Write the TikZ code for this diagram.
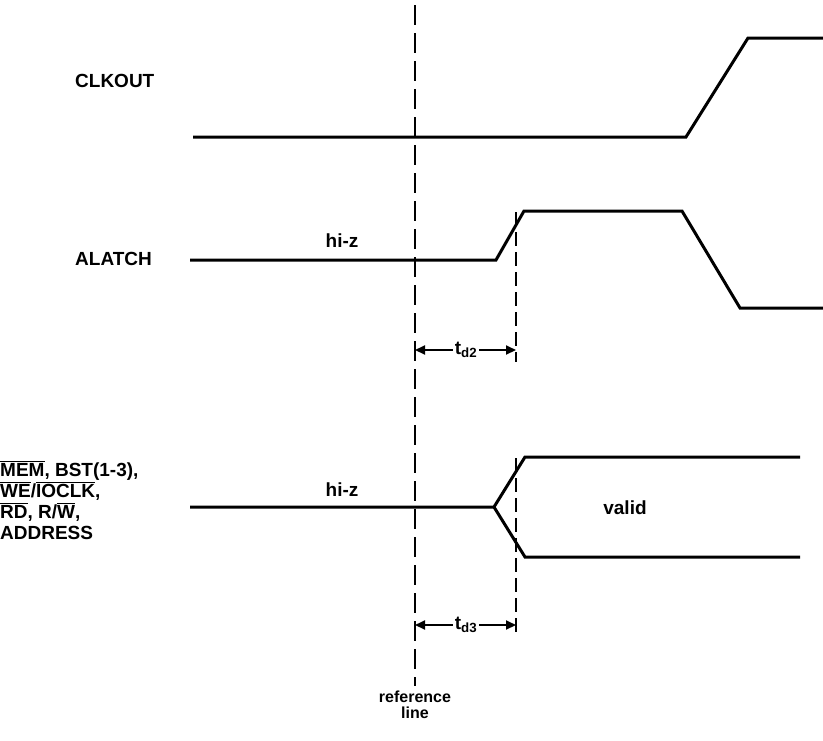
\documentclass[tikz,border=0pt]{standalone}
\usepackage{fontspec}
\setmainfont{Liberation Sans}
\usetikzlibrary{arrows.meta}
\newcommand{\ovl}[1]{$\overline{\hbox{#1}}$}
\begin{document}
\begin{tikzpicture}[x=1pt,y=-1pt,
  sig/.style={line width=3pt,line join=miter},
  refl/.style={line width=2pt,dash pattern=on 20pt off 8pt},
  mark2/.style={line width=2pt,dash pattern=on 14pt off 6pt},
  lbl/.style={font=\fontsize{19}{21}\selectfont\bfseries,inner sep=0pt},
  buslbl/.style={lbl,anchor=base west},
  dim/.style={line width=2pt,-{Triangle[length=10pt,width=9pt]}}]
\useasboundingbox (0,0) rectangle (823,740);
% reference line
\coordinate (rt) at (415,5);
\coordinate (rb) at (415,686);
\draw[refl] (rt) -- (rb);
\node[lbl,align=center,font=\fontsize{16}{16}\selectfont\bfseries] (reftxt) at (415,705) {reference\\line};
% CLKOUT
\node[lbl,anchor=west] (clk) at (75,81) {CLKOUT};
\draw[sig] (193,137) -- (686,137) -- (748,38) -- (823,38);
% ALATCH
\node[lbl,anchor=west] (alatch) at (75,259) {ALATCH};
\node[lbl] (hiz1) at (342,241) {hi-z};
\draw[sig] (190,260) -- (496,260) -- (524,211) -- (682,211) -- (740,308) -- (823,308);
\coordinate (a2t) at (516,212);
\coordinate (a2b) at (516,362);
\draw[mark2] (a2t) -- (a2b);
\node[lbl,fill=white,inner xsep=2pt] (td2) at (466,350) {t\textsubscript{d2}};
\draw[dim] (td2.west) -- (415,350);
\draw[dim] (td2.east) -- (516,350);
% bus
\node[buslbl] (bus1) at (0,476) {\ovl{MEM}, BST(1-3),};
\node[buslbl] (bus2) at (0,497) {\ovl{WE}/\ovl{IOCLK},};
\node[buslbl] (bus3) at (0,518) {\ovl{RD}, R/\ovl{W},};
\node[buslbl] (bus4) at (0,539) {ADDRESS};
\node[lbl] (hiz2) at (342,490) {hi-z};
\draw[sig] (190,507) -- (494,507) -- (525,457) -- (800,457);
\draw[sig] (494,507) -- (525,557) -- (800,557);
\node[lbl] (valid) at (625,508) {valid};
\coordinate (a3t) at (516,458);
\coordinate (a3b) at (516,634);
\draw[mark2] (a3t) -- (a3b);
\node[lbl,fill=white,inner xsep=2pt] (td3) at (466,625) {t\textsubscript{d3}};
\draw[dim] (td3.west) -- (415,625);
\draw[dim] (td3.east) -- (516,625);
\end{tikzpicture}
\end{document}
